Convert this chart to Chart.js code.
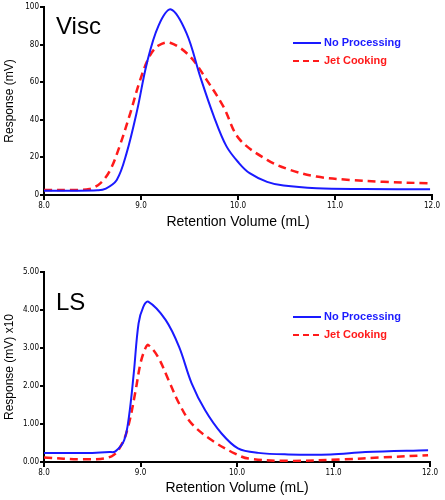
<!DOCTYPE html>
<html>
<head>
<meta charset="utf-8">
<script src="https://cdn.jsdelivr.net/npm/chart.js@4/dist/chart.umd.min.js"></script>
<style>
  body { margin: 0; background: #fff; }
  .box { position: absolute; left: 0; width: 445px; height: 250px; }
</style>
</head>
<body>
<div class="box" style="top:0"><canvas id="visc_chart"></canvas></div>
<div class="box" style="top:250px"><canvas id="ls_chart"></canvas></div>
<script>
// Visc panel
const visc_np_x = [8.0, 8.3, 8.55, 8.63, 8.75, 8.85, 8.96, 9.06, 9.18, 9.31, 9.47, 9.61, 9.75, 9.88, 10.01, 10.12, 10.3, 10.47, 10.81, 11.3, 11.98]
const visc_np_y = [2.3, 2.3, 2.5, 3.2, 8, 22, 45, 70, 90, 98.7, 86, 63, 42, 26, 17, 11.6, 7, 5, 3.6, 3.2, 3.0]
const visc_jc_x = [8.0, 8.3, 8.47, 8.58, 8.68, 8.78, 8.89, 8.99, 9.09, 9.18, 9.30, 9.5, 9.68, 9.85, 10.01, 10.3, 10.54, 10.81, 11.15, 11.5, 11.98]
const visc_jc_y = [2.7, 2.7, 3.2, 6.2, 13, 26, 43.6, 61, 74, 79.5, 81, 74, 61, 47, 30, 18.7, 13.3, 9.8, 8, 7, 6.2]

// LS panel
const ls_np_x = [8.0, 8.5, 8.68, 8.74, 8.83, 8.88, 8.93, 8.98, 9.03, 9.08, 9.26, 9.4, 9.53, 9.67, 9.84, 10.01, 10.22, 10.53, 10.97, 11.33, 11.98]
const ls_np_y = [0.24, 0.24, 0.26, 0.28, 0.57, 1.19, 2.33, 3.65, 4.09, 4.22, 3.74, 3.03, 2.07, 1.36, 0.75, 0.36, 0.24, 0.2, 0.2, 0.26, 0.31]
const ls_jc_x = [8.0, 8.4, 8.7, 8.81, 8.88, 8.95, 9.0, 9.05, 9.08, 9.18, 9.29, 9.4, 9.53, 9.74, 9.98, 10.12, 10.53, 11.1, 11.5, 11.98]
const ls_jc_y = [0.12, 0.07, 0.15, 0.49, 1.01, 1.89, 2.6, 2.99, 3.08, 2.77, 2.16, 1.54, 1.01, 0.57, 0.22, 0.09, 0.03, 0.07, 0.12, 0.18]

const x_ticks = [8.0, 9.0, 10.0, 11.0, 12.0]
const series_labels = ['No Processing', 'Jet Cooking']
const series_colors = ['#1a1aff', '#ff1a1a']

function pts(xs, ys) {
    return xs.map((x, i) => ({x: x, y: ys[i]}))
}

// draws panel name + legend inside the plot
const panelText = {
    id: 'panelText',
    afterDraw(chart, args, opts) {
        const ctx = chart.ctx
        ctx.save()
        ctx.fillStyle = '#000'
        ctx.font = '24px "Liberation Sans", Arial, sans-serif'
        ctx.textBaseline = 'alphabetic'
        ctx.fillText(opts.name, opts.nameX, opts.nameY)
        ctx.font = 'bold 11px "Liberation Sans", Arial, sans-serif'
        ctx.textBaseline = 'middle'
        for (let i = 0; i < 2; i++) {
            const y = opts.legY + i * 18
            ctx.strokeStyle = series_colors[i]
            ctx.lineWidth = 2
            ctx.setLineDash(i == 1 ? [6, 4] : [])
            ctx.beginPath()
            ctx.moveTo(opts.legX, y)
            ctx.lineTo(opts.legX + 28, y)
            ctx.stroke()
            ctx.fillStyle = series_colors[i]
            ctx.fillText(series_labels[i], opts.legX + 31, y)
        }
        ctx.restore()
    }
}

Chart.defaults.font.family = '"Liberation Sans", Arial, sans-serif'
Chart.defaults.color = '#000'

function make_chart(id, np, jc, y_opts, text_opts, pad, xh) {
    return new Chart(id, {
        type: 'line',
        data: {
            datasets: [
                {
                    label: series_labels[0],
                    data: np,
                    borderColor: series_colors[0],
                    borderWidth: 2,
                    fill: false,
                },
                {
                    label: series_labels[1],
                    data: jc,
                    borderColor: series_colors[1],
                    borderWidth: 2.5,
                    borderDash: [8, 5],
                    fill: false,
                }
            ]
        },
        options: {
            responsive: true,
            maintainAspectRatio: false,
            animation: false,
            layout: {padding: pad},
            elements: {
                line: {tension: 0.35},
                point: {radius: 0}
            },
            plugins: {
                legend: {display: false},
                tooltip: {enabled: false},
                panelText: text_opts
            },
            scales: {
                x: {
                    type: 'linear', min: 8, max: 12,
                    afterBuildTicks: (s) => { s.ticks = x_ticks.map(v => ({value: v})) },
                    afterFit: (s) => { s.height = xh },
                    ticks: {
                        font: {size: 8, family: '"DejaVu Sans Condensed", "Liberation Sans Narrow", sans-serif'},
                        padding: 1, maxRotation: 0,
                        callback: (v) => v.toFixed(1)
                    },
                    grid: {drawOnChartArea: false, drawTicks: true, tickLength: 5, color: '#000', lineWidth: 2},
                    border: {color: '#000', width: 2},
                    title: {display: true, text: 'Retention Volume (mL)', font: {size: 14}, padding: {top: 0, bottom: 0}}
                },
                y: Object.assign({
                    type: 'linear',
                    afterFit: (s) => { s.width = 44 },
                    grid: {drawOnChartArea: false, drawTicks: true, tickLength: 4, color: '#000', lineWidth: 2},
                    border: {color: '#000', width: 2},
                }, y_opts)
            }
        },
        plugins: [panelText]
    })
}

const tick_font = {size: 8, family: '"DejaVu Sans Condensed", "Liberation Sans Narrow", sans-serif'}

make_chart('visc_chart', pts(visc_np_x, visc_np_y), pts(visc_jc_x, visc_jc_y),
    {
        min: 0, max: 100,
        ticks: {stepSize: 20, font: tick_font, padding: 1},
        title: {display: true, text: 'Response (mV)', font: {size: 12}, padding: 2}
    },
    {name: 'Visc', nameX: 56, nameY: 34, legX: 293, legY: 43},
    {top: 7, right: 13, left: 0, bottom: 19}, 36)

make_chart('ls_chart', pts(ls_np_x, ls_np_y), pts(ls_jc_x, ls_jc_y),
    {
        min: 0, max: 5,
        ticks: {stepSize: 1, font: tick_font, padding: 1, callback: (v) => v.toFixed(2)},
        title: {display: true, text: 'Response (mV) x10', font: {size: 12}, padding: 2}
    },
    {name: 'LS', nameX: 56, nameY: 60, legX: 293, legY: 67},
    {top: 22, right: 15, left: 0, bottom: 3}, 35)
</script>
</body>
</html>
